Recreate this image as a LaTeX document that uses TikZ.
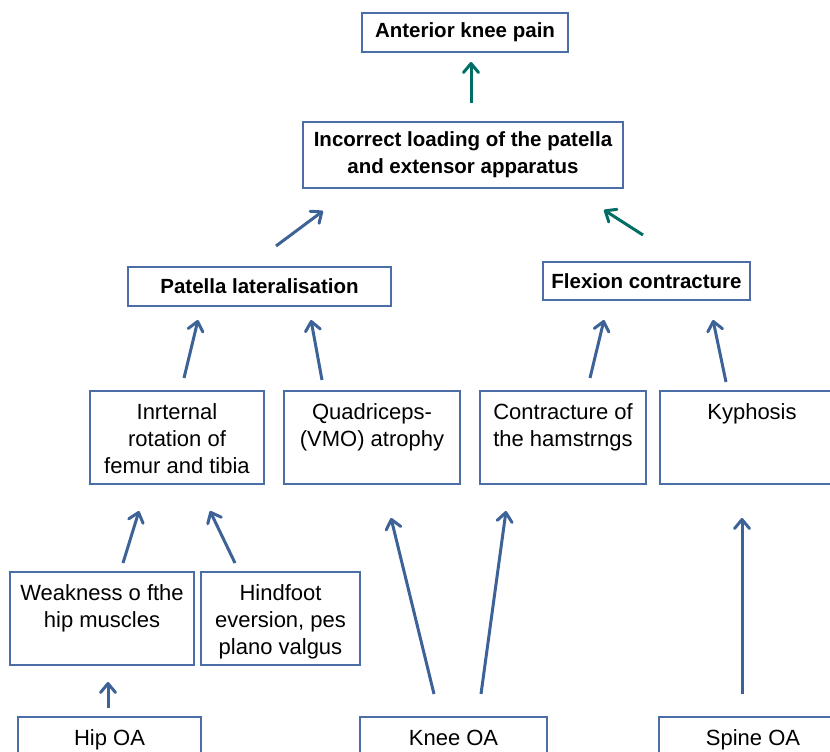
\documentclass[tikz,border=0pt]{standalone}
\usepackage{fontspec}
\setmainfont{Liberation Sans}
\usetikzlibrary{arrows.meta}
\definecolor{boxblue}{RGB}{74,110,165}
\definecolor{arrowblue}{RGB}{60,98,152}
\definecolor{arrowteal}{RGB}{0,110,100}
\newcommand{\celltext}[3]{\parbox[c][#2][t]{#1}{\centering\rule{0pt}{28pt}#3}}
\begin{document}
\begin{tikzpicture}[x=1pt, y=-1pt,
  cause/.style={draw=boxblue, line width=1.1pt, inner sep=0pt, outer sep=0pt, anchor=north west, font=\fontsize{22}{27}\selectfont},
  effect/.style={draw=boxblue, line width=1.1pt, inner sep=0pt, outer sep=0pt, align=center, font=\bfseries\fontsize{20.5}{27}\selectfont},
  link/.style={draw=arrowblue, line width=3pt, line join=round, -{Straight Barb[length=9pt,width=15pt,round]}},
  tlink/.style={link, draw=arrowteal}]
\clip (0,0) rectangle (830,752);
% effects
\node[effect, minimum width=206, minimum height=39] (pain) at (465,32.5) {Anterior knee pain};
\node[effect, minimum width=320, minimum height=66] (load) at (463,155) {Incorrect loading of the patella\\and extensor apparatus};
\node[effect, minimum width=263, minimum height=39] (lat) at (259.5,286.5) {Patella lateralisation};
\node[effect, minimum width=207, minimum height=38] (flex) at (646.5,281) {Flexion contracture};
% causes
\node[cause] (rot) at (90,391) {\celltext{174pt}{93pt}{Inrternal\\rotation of\\femur and tibia}};
\node[cause] (vmo) at (284,391) {\celltext{176pt}{93pt}{Quadriceps-\\(VMO) atrophy}};
\node[cause] (ham) at (480,391) {\celltext{166pt}{93pt}{Contracture of\\the hamstrngs}};
\node[cause] (kyph) at (660,391) {\celltext{184pt}{93pt}{Kyphosis}};
\node[cause] (weak) at (10,572) {\celltext{184pt}{93pt}{Weakness o fthe\\hip muscles}};
\node[cause] (foot) at (201,572) {\celltext{159pt}{93pt}{Hindfoot\\eversion, pes\\plano valgus}};
\node[cause] (hip) at (18,717) {\celltext{183pt}{60pt}{Hip OA}};
\node[cause] (knee) at (360,717) {\celltext{187pt}{60pt}{Knee OA}};
\node[cause] (spine) at (659,717) {\celltext{188pt}{60pt}{Spine OA}};
% arrow ends
\coordinate (t1s) at (471,103); \coordinate (t1e) at (471,62);
\coordinate (t2s) at (643,235); \coordinate (t2e) at (604,210);
\coordinate (b1s) at (276,246); \coordinate (b1e) at (323,211);
\coordinate (p1s) at (184,378); \coordinate (p1e) at (198,320);
\coordinate (p2s) at (322,380); \coordinate (p2e) at (311,320);
\coordinate (f1s) at (590,378); \coordinate (f1e) at (604,320);
\coordinate (f2s) at (726,382); \coordinate (f2e) at (713,320);
\coordinate (i1s) at (123,563); \coordinate (i1e) at (139,511);
\coordinate (i2s) at (235,563); \coordinate (i2e) at (210,511);
\coordinate (k1s) at (434,694); \coordinate (k1e) at (391,518);
\coordinate (k2s) at (481,694); \coordinate (k2e) at (506,511);
\coordinate (s1s) at (742,694); \coordinate (s1e) at (742,518);
\coordinate (h1s) at (108,708); \coordinate (h1e) at (108,682);
% arrows
\draw [tlink] (t1s) -- (t1e);
\draw [tlink] (t2s) -- (t2e);
\draw [link] (b1s) -- (b1e);
\draw [link] (p1s) -- (p1e);
\draw [link] (p2s) -- (p2e);
\draw [link] (f1s) -- (f1e);
\draw [link] (f2s) -- (f2e);
\draw [link] (i1s) -- (i1e);
\draw [link] (i2s) -- (i2e);
\draw [link] (k1s) -- (k1e);
\draw [link] (k2s) -- (k2e);
\draw [link] (s1s) -- (s1e);
\draw [link] (h1s) -- (h1e);
\end{tikzpicture}
\end{document}
